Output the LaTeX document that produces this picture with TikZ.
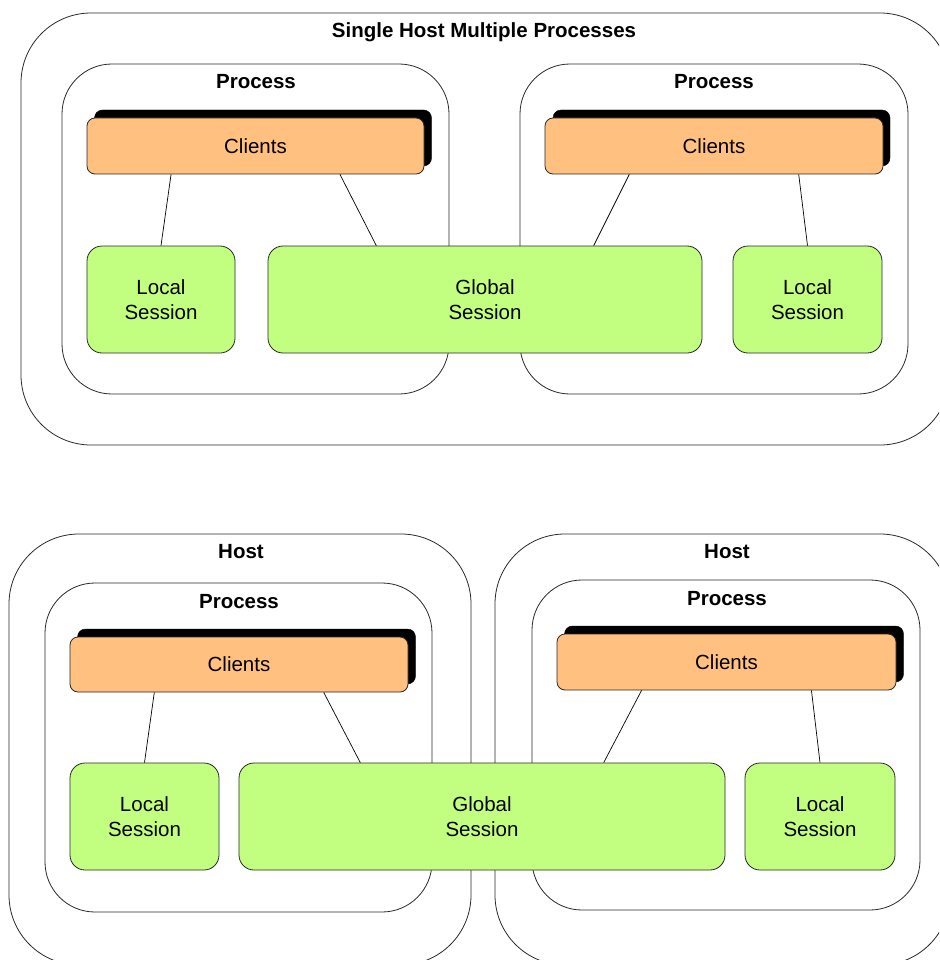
\documentclass[tikz,border=0pt]{standalone}
\usepackage{fontspec}
\setmainfont{Liberation Sans}
\usetikzlibrary{calc}
\definecolor{clientfill}{RGB}{255,192,128}
\definecolor{sessionfill}{RGB}{194,255,128}
\definecolor{edge}{RGB}{40,40,40}
\newcommand{\labelfont}{\fontsize{20.5}{25.5}\selectfont}
\tikzset{
  frame/.style={draw=edge, line width=0.8pt, fill=white, rectangle, inner sep=0pt},
  hostbox/.style={frame, rounded corners=70pt},
  procbox/.style={frame, rounded corners=50pt},
  shadowbox/.style={rectangle, fill=black, draw=black, rounded corners=8pt, inner sep=0pt},
  clientbox/.style={rectangle, draw=edge, line width=0.8pt, fill=clientfill, rounded corners=8pt, inner sep=0pt},
  sessionbox/.style={rectangle, draw=edge, line width=0.8pt, fill=sessionfill, rounded corners=15pt, inner sep=0pt, align=center},
  title/.style={font=\labelfont\bfseries},
  link/.style={draw=black, line width=0.7pt}
}
\begin{document}
\begin{tikzpicture}[x=1pt, y=-1pt, font=\labelfont]
\useasboundingbox (0,0) rectangle (939,960);
\clip (0,0) rectangle (939,960);

% ---------- single host, two processes ----------
\node[hostbox, minimum width=929pt, minimum height=432pt] (host) at (485.5,229) {};
\node[title] (hostlbl) at (484,32) {Single Host Multiple Processes};

\node[procbox, minimum width=387pt, minimum height=330pt] (pa) at (255.5,229) {};
\node[procbox, minimum width=388pt, minimum height=330pt] (pb) at (714,229) {};
\node[title] (palbl) at (256,82) {Process};
\node[title] (pblbl) at (714,82) {Process};

\node[shadowbox, minimum width=337pt, minimum height=56pt] (cas) at (263,138) {};
\node[clientbox, minimum width=337pt, minimum height=56pt] (ca) at (255.5,146) {Clients};
\node[shadowbox, minimum width=337pt, minimum height=56pt] (cbs) at (721.5,138) {};
\node[clientbox, minimum width=338pt, minimum height=56pt] (cb) at (714,146) {Clients};

\node[sessionbox, minimum width=148pt, minimum height=107pt] (la) at (161,299.5) {Local\\Session};
\node[sessionbox, minimum width=434pt, minimum height=107pt] (g) at (485,299.5) {Global\\Session};
\node[sessionbox, minimum width=149pt, minimum height=107pt] (lb) at (807.5,299.5) {Local\\Session};

\draw[link] ($(ca.south west)!0.25!(ca.south east)$) -- (la.north);
\draw[link] ($(ca.south west)!0.75!(ca.south east)$) -- ($(g.north west)!0.25!(g.north east)$);
\draw[link] ($(cb.south west)!0.25!(cb.south east)$) -- ($(g.north west)!0.75!(g.north east)$);
\draw[link] ($(cb.south west)!0.75!(cb.south east)$) -- (lb.north);

% ---------- two hosts, one process each ----------
\node[hostbox, minimum width=462pt, minimum height=431pt] (ha) at (240,749.5) {};
\node[hostbox, minimum width=455pt, minimum height=431pt] (hb) at (722.5,749.5) {};
\node[title] (halbl) at (241,552) {Host};
\node[title] (hblbl) at (727,552) {Host};

\node[procbox, minimum width=387pt, minimum height=329pt] (qa) at (238.5,747.5) {};
\node[procbox, minimum width=388pt, minimum height=330pt] (qb) at (726,745) {};
\node[title] (qalbl) at (239,602) {Process};
\node[title] (qblbl) at (727,599) {Process};

\node[shadowbox, minimum width=338pt, minimum height=55pt] (das) at (246.5,656.5) {};
\node[clientbox, minimum width=338pt, minimum height=55pt] (da) at (239,664.5) {Clients};
\node[shadowbox, minimum width=339pt, minimum height=56pt] (dbs) at (734,654) {};
\node[clientbox, minimum width=339pt, minimum height=56pt] (db) at (726.5,662) {Clients};

\node[sessionbox, minimum width=149pt, minimum height=107pt] (ma) at (144.5,816.5) {Local\\Session};
\node[sessionbox, minimum width=486pt, minimum height=107pt] (gg) at (482,816.5) {Global\\Session};
\node[sessionbox, minimum width=150pt, minimum height=107pt] (mb) at (820,816.5) {Local\\Session};

\draw[link] ($(da.south west)!0.25!(da.south east)$) -- (ma.north);
\draw[link] ($(da.south west)!0.75!(da.south east)$) -- ($(gg.north west)!0.25!(gg.north east)$);
\draw[link] ($(db.south west)!0.25!(db.south east)$) -- ($(gg.north west)!0.75!(gg.north east)$);
\draw[link] ($(db.south west)!0.75!(db.south east)$) -- (mb.north);
\end{tikzpicture}
\end{document}
